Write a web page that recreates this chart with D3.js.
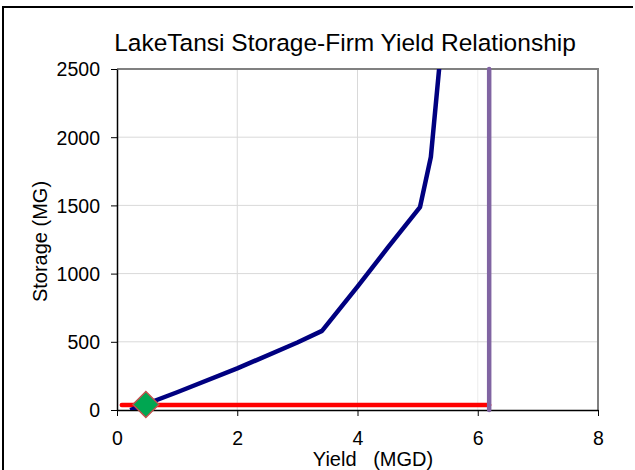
<!DOCTYPE html>
<html>
<head>
<meta charset="utf-8">
<script src="https://cdn.jsdelivr.net/npm/d3@7"></script>
<style>
  body { margin: 0; background: #fff; }
  svg { display: block; font-family: "Liberation Sans", Arial, sans-serif; }
</style>
</head>
<body>
<div id="graph"></div>
<script>
const width = 635
const height = 470
const margin = {left: 117, right: 37, top: 69, bottom: 60}

// storage-yield curve (MGD, MG)
const curveYield = [0.22, 1, 2, 3, 3.41, 4, 4.5, 5.04, 5.22, 5.4]
const curveStorage = [0, 130, 305, 495, 580, 905, 1188, 1488, 1855, 2700]
// demand line
const demandYield = [0.08, 6.19]
const demandStorage = [37, 37]
// firm yield vertical
const firmYield = [6.19, 6.19]
const firmStorage = [0, 2500]
// current point
const pointYield = [0.48]
const pointStorage = [40]

const xTicks = [0, 2, 4, 6, 8]
const yTicks = [0, 500, 1000, 1500, 2000, 2500]

const svg = d3.select('#graph')
  .append('svg')
  .attr('width', width)
  .attr('height', height)

// outer frame
svg.append('path')
  .attr('d', `M3,470 V7 H633`)
  .attr('fill', 'none')
  .attr('stroke', '#000')
  .attr('stroke-width', 2)

const xScale = d3.scaleLinear().domain([0, 8]).range([margin.left, width - margin.right])
const yScale = d3.scaleLinear().domain([0, 2500]).range([height - margin.bottom, margin.top])

const x0 = xScale(0), x1 = xScale(8), y0 = yScale(0), y1 = yScale(2500)

// gridlines
svg.append('g').selectAll('line')
  .data(xTicks.slice(1, -1))
  .join('line')
  .attr('x1', d => xScale(d)).attr('x2', d => xScale(d))
  .attr('y1', y1).attr('y2', y0)
  .attr('stroke', d => d === 6 ? '#ececec' : '#d9d9d9')
svg.append('g').selectAll('line')
  .data(yTicks.slice(1, -1))
  .join('line')
  .attr('x1', x0).attr('x2', x1)
  .attr('y1', d => yScale(d)).attr('y2', d => yScale(d))
  .attr('stroke', '#d9d9d9')

// plot border: top/right gray
svg.append('path')
  .attr('d', `M${x0},${y1} H${x1} V${y0}`)
  .attr('fill', 'none')
  .attr('stroke', '#808080')
  .attr('stroke-width', 2)

// axes
const xAxis = svg.append('g')
  .attr('transform', `translate(0,${y0})`)
  .call(d3.axisBottom(xScale).tickValues(xTicks).tickFormat(d3.format('d')).tickSize(6).tickSizeOuter(0))
const yAxis = svg.append('g')
  .attr('transform', `translate(${x0},0)`)
  .call(d3.axisLeft(yScale).tickValues(yTicks).tickFormat(d3.format('d')).tickSize(6).tickSizeOuter(0))

for (const ax of [xAxis, yAxis]) {
  ax.attr('font-size', null).attr('font-family', null)
  ax.select('.domain').attr('stroke', '#000').attr('stroke-width', 1.5)
  ax.selectAll('.tick line').attr('stroke', '#000')
  ax.selectAll('.tick text').attr('font-size', 19.5).attr('fill', '#000')
}
xAxis.selectAll('.tick text').attr('y', 0).attr('dy', 35)
yAxis.selectAll('.tick text').attr('x', -17).attr('dy', '0.35em')

const line = d3.line().x(d => xScale(d[0])).y(d => yScale(d[1]))

svg.append('clipPath').attr('id', 'clip')
  .append('rect').attr('x', x0).attr('y', y1).attr('width', x1 - x0).attr('height', y0 - y1)

// red demand line
svg.append('path')
  .datum(d3.zip(demandYield, demandStorage))
  .attr('d', line)
  .attr('fill', 'none')
  .attr('stroke', '#ff0000')
  .attr('stroke-width', 4.5)
  .attr('stroke-linecap', 'round')

// curve
svg.append('path')
  .datum(d3.zip(curveYield, curveStorage))
  .attr('clip-path', 'url(#clip)')
  .attr('d', line)
  .attr('fill', 'none')
  .attr('stroke', '#000080')
  .attr('stroke-width', 4.5)
  .attr('stroke-linejoin', 'round')

// firm yield vertical
svg.append('path')
  .datum(d3.zip(firmYield, firmStorage))
  .attr('d', line)
  .attr('fill', 'none')
  .attr('stroke', '#8064a2')
  .attr('stroke-width', 4.5)
  .attr('stroke-linecap', 'round')

// diamond marker
svg.append('g').selectAll('path')
  .data(d3.zip(pointYield, pointStorage))
  .join('path')
  .attr('transform', d => `translate(${xScale(d[0])},${yScale(d[1])})`)
  .attr('d', 'M0,-13 L13,0 L0,13 L-13,0 Z')
  .attr('fill', '#00a651')
  .attr('stroke', '#c0504d')
  .attr('stroke-width', 1.5)

// titles
svg.append('text')
  .attr('x', 345).attr('y', 51)
  .attr('text-anchor', 'middle')
  .attr('font-size', 24.5)
  .text('LakeTansi Storage-Firm Yield Relationship')

svg.append('text')
  .attr('x', 373).attr('y', 466)
  .attr('text-anchor', 'middle')
  .attr('font-size', 20)
  .attr('xml:space', 'preserve')
  .text('Yield   (MGD)')

svg.append('text')
  .attr('transform', `translate(47,${(y0 + y1) / 2 + 2}) rotate(-90)`)
  .attr('text-anchor', 'middle')
  .attr('font-size', 20)
  .text('Storage (MG)')
</script>
</body>
</html>
